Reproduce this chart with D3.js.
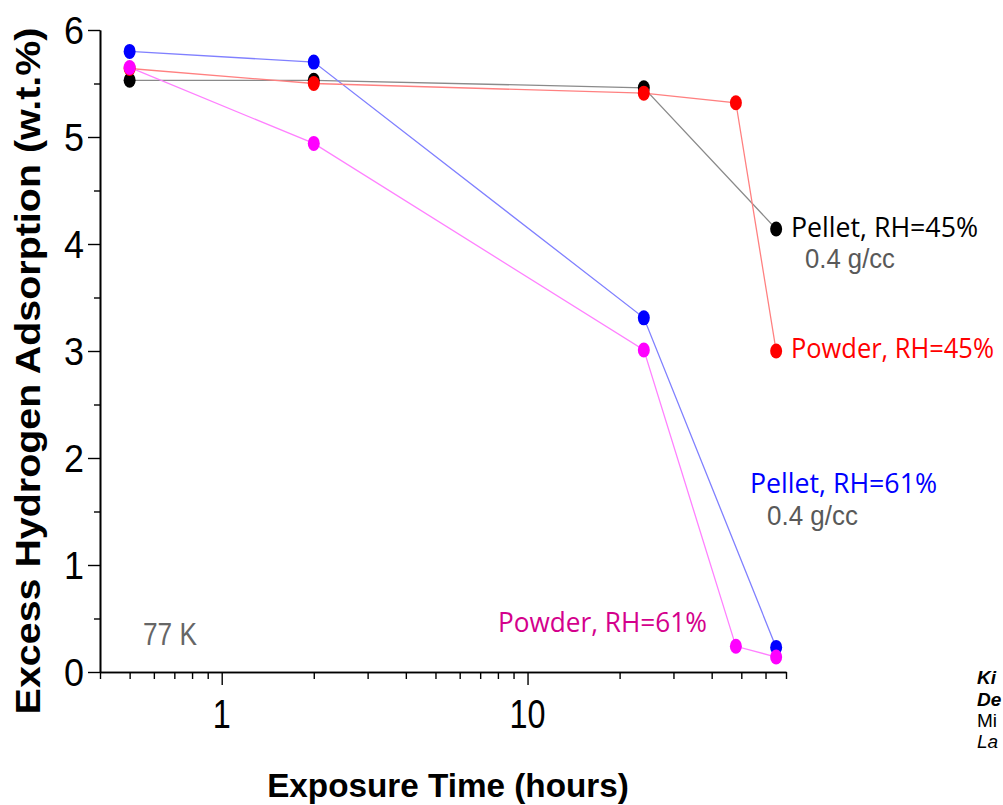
<!DOCTYPE html>
<html>
<head>
<meta charset="utf-8">
<script src="https://cdn.jsdelivr.net/npm/d3@7"></script>
<style>
  html, body { margin: 0; padding: 0; background: #fff; }
  svg { display: block; }
</style>
</head>
<body>
<svg id="chart" width="1003" height="805"></svg>
<script>
// ---- data ----
const hoursA = [0.5, 2, 24, 65];          // Pellet RH=45% and Pellet RH=61%
const hoursB = [0.5, 2, 24, 48, 65];      // Powder RH=45% and Powder RH=61%
const pellet45 = [5.53, 5.53, 5.46, 4.14];
const powder45 = [5.64, 5.50, 5.41, 5.32, 3.00];
const pellet61 = [5.80, 5.70, 3.31, 0.23];
const powder61 = [5.65, 4.94, 3.01, 0.24, 0.14];
const xMajorTicks = [1, 10];
const xTickLabels = ["1", "10"];
const xMinorTicks = [0.4, 0.5, 0.6, 0.7, 0.8, 0.9, 2, 3, 4, 5, 6, 7, 8, 9, 20, 30, 40, 50, 60, 70];
const yMajorTicks = [0, 1, 2, 3, 4, 5, 6];
const yMinorTicks = [0.5, 1.5, 2.5, 3.5, 4.5, 5.5];
const seriesNames = ["Pellet, RH=45%", "Powder, RH=45%", "Pellet, RH=61%", "Powder, RH=61%"];

const series = [
  {name: seriesNames[0], x: hoursA, y: pellet45, dot: "#000000", line: "#8a8a8a"},
  {name: seriesNames[2], x: hoursA, y: pellet61, dot: "#0000ff", line: "#8080ff"},
  {name: seriesNames[1], x: hoursB, y: powder45, dot: "#ff0000", line: "#ff8080"},
  {name: seriesNames[3], x: hoursB, y: powder61, dot: "#ff00ff", line: "#ff80ff"}
];

const svg = d3.select("#chart");
const x = d3.scaleLog().domain([0.4, 70]).range([100, 786]);
const y = d3.scaleLinear().domain([0, 6]).range([672, 30]);

// text helper: width 'len' is reached by a horizontal scale of the glyphs
function label(px, py, text, o) {
  const g = svg.append("g").attr("transform", `translate(${px},${py})` + (o.rot ? ` rotate(${o.rot})` : ""));
  const t = g.append("text")
    .attr("x", 0).attr("y", 0)
    .attr("text-anchor", o.anchor || "start")
    .attr("font-family", o.family || "'Liberation Sans', Arial, sans-serif")
    .attr("font-size", o.size)
    .attr("font-weight", o.weight || "normal")
    .attr("font-style", o.style || "normal")
    .attr("fill", o.fill || "#000")
    .text(text);
  if (o.len) {
    const w = t.node().getComputedTextLength();
    if (w > 0) t.attr("transform", `scale(${o.len / w},1)`);
  }
  return t;
}

// ---- axes ----
const axisStyle = g => {
  g.select(".domain").attr("stroke", "#000").attr("stroke-width", 1.6);
  g.selectAll(".tick line").attr("stroke", "#000").attr("stroke-width", 1.4);
  g.selectAll(".tick text").remove();
};
svg.append("g").attr("transform", `translate(0,${y(0)})`)
  .call(d3.axisBottom(x).tickValues(xMinorTicks).tickSize(7).tickSizeOuter(0).tickFormat(""))
  .call(axisStyle);
svg.append("g").attr("transform", `translate(0,${y(0)})`)
  .call(d3.axisBottom(x).tickValues(xMajorTicks).tickSize(13).tickSizeOuter(0).tickFormat(""))
  .call(axisStyle);
svg.append("g").attr("transform", `translate(${x(0.4)},0)`)
  .call(d3.axisLeft(y).tickValues(yMinorTicks).tickSize(6).tickSizeOuter(0).tickFormat(""))
  .call(axisStyle);
svg.append("g").attr("transform", `translate(${x(0.4)},0)`)
  .call(d3.axisLeft(y).tickValues(yMajorTicks).tickSize(12).tickSizeOuter(0).tickFormat(""))
  .call(axisStyle);

// tick labels
xMajorTicks.forEach((v, i) => {
  label(x(v), 728, xTickLabels[i], {size: 40, anchor: "middle", len: i === 0 ? 18 : 36});
});
yMajorTicks.forEach(v => {
  label(84, y(v) + 14, String(v), {size: 39, anchor: "end", len: 20});
});

// axis titles
label(40, 371, "Excess Hydrogen Adsorption (w.t.%)", {size: 35, weight: "bold", anchor: "middle", rot: -90, len: 687});
label(448, 797, "Exposure Time (hours)", {size: 34, weight: "bold", anchor: "middle", len: 362});

// ---- lines ----
const line = d3.line().x(d => x(d[0])).y(d => y(d[1]));
series.forEach(s => {
  svg.append("path")
    .datum(s.x.map((h, i) => [h, s.y[i]]))
    .attr("d", line)
    .attr("fill", "none")
    .attr("stroke", s.line)
    .attr("stroke-width", 1.3);
});
// ---- markers ----
series.forEach(s => {
  svg.append("g").selectAll("ellipse")
    .data(s.x.map((h, i) => [h, s.y[i]]))
    .join("ellipse")
    .attr("cx", d => x(d[0]))
    .attr("cy", d => y(d[1]))
    .attr("rx", 6)
    .attr("ry", 7.5)
    .attr("fill", s.dot);
});

// ---- annotations ----
const OS = "'Open Sans', 'Noto Sans', sans-serif";
label(791, 237, seriesNames[0], {size: 28, family: OS, fill: "#000", len: 187});
label(805, 268, "0.4 g/cc", {size: 28, fill: "#595959", len: 90});
label(791, 358, seriesNames[1], {size: 28, family: OS, fill: "#ff0000", len: 203});
label(750, 493, seriesNames[2], {size: 28, family: OS, fill: "#0000ff", len: 187});
label(767, 525, "0.4 g/cc", {size: 28, fill: "#595959", len: 91});
label(498, 632, seriesNames[3], {size: 28, family: OS, fill: "#d4008c", len: 209});
label(143, 645, "77 K", {size: 32, fill: "#666666", len: 54});

// cut-off side notes (only their first letters are visible in the picture)
label(977, 684, "Ki", {size: 19, weight: "bold", style: "italic"});
label(977, 706, "De", {size: 19, weight: "bold", style: "italic"});
label(977, 727, "Mi", {size: 19});
label(977, 748, "La", {size: 19, style: "italic"});
</script>
</body>
</html>
